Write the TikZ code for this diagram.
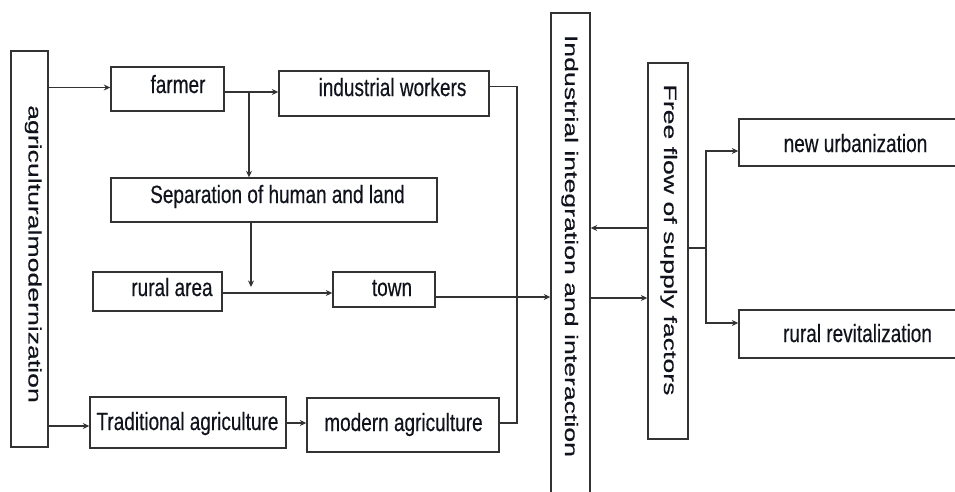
\documentclass[tikz,border=0pt]{standalone}
\usepackage{fontspec}
\usetikzlibrary{arrows.meta}
\newfontfamily\hfont[FakeStretch=0.76,FakeBold=0.35]{Liberation Sans}
\newfontfamily\vfont[FakeStretch=1.48,FakeBold=0.3]{Liberation Sans}
\definecolor{linec}{HTML}{333333}
\definecolor{textc}{HTML}{10131C}
\tikzset{
  box/.style={draw=linec, line width=1.4pt, rectangle, inner sep=0pt, fill=white},
  hlab/.style={font=\hfont\fontsize{25}{30}\selectfont, text=textc, inner sep=0pt, anchor=base},
  vlab/.style={font=\vfont\fontsize{18}{22}\selectfont, text=textc, inner sep=0pt, anchor=base, rotate=-90},
  conn/.style={draw=linec, line width=1.4pt},
  arr/.style={conn, -{Stealth[length=6.5pt,width=6pt]}}
}
\begin{document}
\begin{tikzpicture}[x=1pt,y=-1pt]
\useasboundingbox[fill=white] (0,0) rectangle (955,491);

% boxes
\node[box, minimum width=37pt, minimum height=396pt] (agri) at (29.5,249) {};
\node[box, minimum width=113pt, minimum height=44pt] (farmer) at (167.5,89) {};
\node[box, minimum width=210pt, minimum height=45pt] (indw) at (384,93.5) {};
\node[box, minimum width=326pt, minimum height=44pt] (sep) at (274,200) {};
\node[box, minimum width=129pt, minimum height=39pt] (rural) at (157.5,291.5) {};
\node[box, minimum width=102pt, minimum height=35pt] (town) at (384,289.5) {};
\node[box, minimum width=196pt, minimum height=51pt] (trad) at (188,422.5) {};
\node[box, minimum width=192pt, minimum height=54pt] (modern) at (403,425) {};
\node[box, minimum width=39pt, minimum height=482pt] (indint) at (570.5,254) {};
\node[box, minimum width=40pt, minimum height=376pt] (free) at (668,251) {};
\node[box, minimum width=219pt, minimum height=47pt] (newu) at (848.5,142.5) {};
\node[box, minimum width=219pt, minimum height=48pt] (rurr) at (848.5,334) {};

% texts
\node[vlab] (agri-t) at (28.5,254) {agriculturalmodernization};
\node[hlab] (farmer-t) at (178,93) {farmer};
\node[hlab] (indw-t) at (392.5,96) {industrial workers};
\node[hlab] (sep-t) at (277.5,203) {Separation of human and land};
\node[hlab] (rural-t) at (172,296) {rural area};
\node[hlab] (town-t) at (392,296) {town};
\node[hlab] (trad-t) at (187.5,430) {Traditional agriculture};
\node[hlab] (modern-t) at (403.5,431) {modern agriculture};
\node[vlab] (indint-t) at (565,246) {Industrial integration and interaction};
\node[vlab] (free-t) at (664,240) {Free flow of supply factors};
\node[hlab] (newu-t) at (855.5,152) {new urbanization};
\node[hlab] (rurr-t) at (857.5,342) {rural revitalization};

% connectors
\draw[arr] (agri.east |- 0,87.5) -- (farmer.west |- 0,87.5);
\draw[arr] (farmer.east |- 0,92) -- (indw.west |- 0,92);
\coordinate (j1) at (249,92);
\draw[arr] (j1) -- (j1 |- sep.north);
\coordinate (j2) at (251,287);
\draw[arr] (sep.south -| j2) -- (j2);
\draw[arr] (rural.east |- 0,293) -- (town.west |- 0,293);
\draw[arr] (town.east |- 0,297) -- (indint.west |- 0,297);
\coordinate (c1) at (517,86.5);
\coordinate (c2) at (517,423);
\draw[conn] (indw.east |- c1) -- (c1) -- (c2) -- (modern.east |- c2);
\draw[arr] (agri.east |- 0,426) -- (trad.west |- 0,426);
\draw[arr] (trad.east |- 0,423) -- (modern.west |- 0,423);
\draw[arr] (free.west |- 0,228) -- (indint.east |- 0,228);
\draw[arr] (indint.east |- 0,298) -- (free.west |- 0,298);
\coordinate (j3) at (706,248);
\draw[conn] (free.east |- j3) -- (j3);
\draw[arr] (j3) |- (newu.west |- 0,151);
\draw[arr] (j3) |- (rurr.west |- 0,323);
\end{tikzpicture}
\end{document}
